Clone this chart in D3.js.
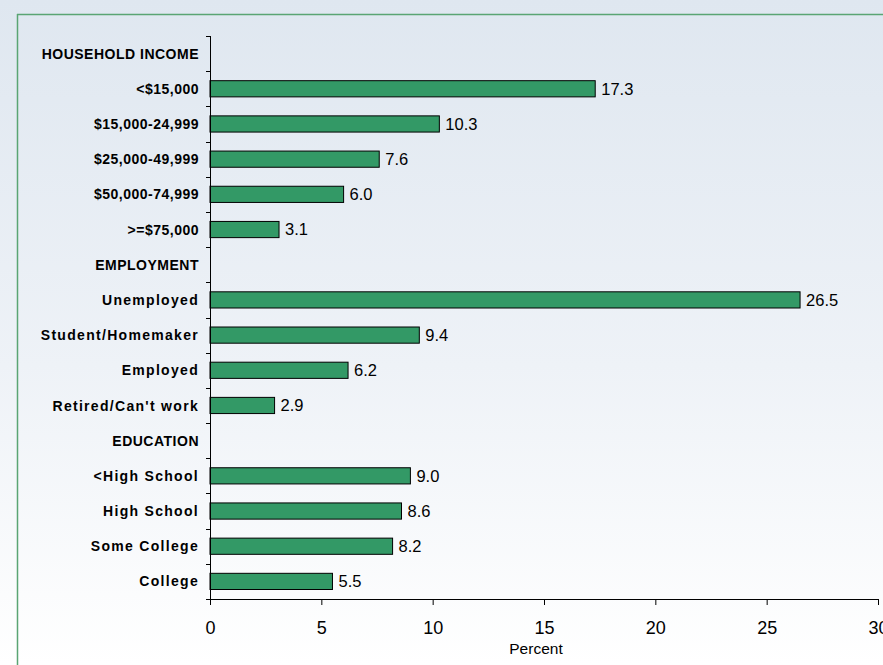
<!DOCTYPE html>
<meta charset="utf-8">
<style>
body { margin: 0; font-family: Arial, "Liberation Sans", Helvetica, sans-serif; }
svg { display: block; }
.ylab { font-size: 14px; font-weight: bold; fill: #000; }
.val { font-size: 16.5px; fill: #000; }
.xaxis text { font-size: 18px; font-family: Arial, "Liberation Sans", sans-serif; fill: #000; }
</style>
<body>
<script src="https://d3js.org/d3.v7.min.js"></script>
<script>
var categories = ["HOUSEHOLD INCOME", "<$15,000", "$15,000-24,999", "$25,000-49,999", "$50,000-74,999", ">=$75,000",
  "EMPLOYMENT", "Unemployed", "Student/Homemaker", "Employed", "Retired/Can't work",
  "EDUCATION", "<High School", "High School", "Some College", "College"];
var values = [null, 17.3, 10.3, 7.6, 6.0, 3.1,
  null, 26.5, 9.4, 6.2, 2.9,
  null, 9.0, 8.6, 8.2, 5.5];
var xTicks = [0, 5, 10, 15, 20, 25, 30];

var width = 883, height = 665;

var svg = d3.select("body").append("svg")
  .attr("width", width)
  .attr("height", height);

// background gradient
var grad = svg.append("defs").append("linearGradient")
  .attr("id", "bg").attr("x1", 0).attr("y1", 0).attr("x2", 0).attr("y2", 1);
grad.append("stop").attr("offset", "0%").attr("stop-color", "#dfe7f0");
grad.append("stop").attr("offset", "55%").attr("stop-color", "#eef2f7");
grad.append("stop").attr("offset", "100%").attr("stop-color", "#ffffff");
svg.append("rect").attr("width", width).attr("height", height).attr("fill", "url(#bg)");

// green frame (top and left edges visible)
svg.append("line").attr("x1", 17).attr("y1", 14.5).attr("x2", width).attr("y2", 14.5)
  .attr("stroke", "#5aa573").attr("stroke-width", 1.5);
svg.append("line").attr("x1", 17.5).attr("y1", 14).attr("x2", 17.5).attr("y2", height)
  .attr("stroke", "#5aa573").attr("stroke-width", 1.5);

var x = d3.scaleLinear().domain([0, 30]).range([210, 878]);
var y = d3.scaleBand().domain(categories).range([36, 599]).paddingInner(0).paddingOuter(0);
var barH = y.bandwidth() * 0.46;

var rows = categories.map(function(c, i) { return {cat: c, v: values[i]}; });
var withVal = rows.filter(function(d) { return d.v !== null; });

// bars
svg.selectAll("rect.bar").data(withVal).enter().append("rect")
  .attr("class", "bar")
  .attr("x", x(0))
  .attr("y", function(d) { return y(d.cat) + (y.bandwidth() - barH) / 2; })
  .attr("width", function(d) { return x(d.v) - x(0); })
  .attr("height", barH)
  .attr("fill", "#339966")
  .attr("stroke", "#000")
  .attr("stroke-width", 1);

svg.selectAll("text.val").data(withVal).enter().append("text")
  .attr("class", "val")
  .attr("x", function(d) { return x(d.v) + 6; })
  .attr("y", function(d) { return y(d.cat) + y.bandwidth() / 2; })
  .attr("dy", "0.36em")
  .text(function(d) { return d.v.toFixed(1); });

// y axis line and ticks at band boundaries
svg.append("line").attr("x1", x(0) + 0.5).attr("x2", x(0) + 0.5)
  .attr("y1", y.range()[0]).attr("y2", y.range()[1])
  .attr("stroke", "#000");
var bounds = categories.map(function(c) { return y(c); }).concat([y.range()[1]]);
svg.selectAll("line.ytick").data(bounds).enter().append("line")
  .attr("x1", x(0) - 4).attr("x2", x(0))
  .attr("y1", function(d) { return Math.round(d) + 0.5; })
  .attr("y2", function(d) { return Math.round(d) + 0.5; })
  .attr("stroke", "#000");

// category labels; mixed-case words are spaced out wider in the original
svg.selectAll("text.ylab").data(categories).enter().append("text")
  .attr("class", "ylab")
  .attr("x", 199)
  .attr("y", function(d) { return y(d) + y.bandwidth() / 2; })
  .attr("dy", "0.36em")
  .attr("text-anchor", "end")
  .attr("letter-spacing", function(d) { return /[a-z]/.test(d) ? 1.3 : 0.5; })
  .text(function(d) { return d; });

// x axis
var xAxis = svg.append("g").attr("class", "xaxis")
  .attr("transform", "translate(0," + 599 + ")")
  .call(d3.axisBottom(x).tickValues(xTicks).tickSize(6).tickPadding(16).tickSizeOuter(0));
xAxis.select(".domain").attr("stroke", "#000");
xAxis.selectAll(".tick line").attr("stroke", "#000");

svg.append("text")
  .attr("x", x(15) - 8)
  .attr("y", 654)
  .attr("text-anchor", "middle")
  .style("font-size", "15.5px")
  .text("Percent");
</script>
</body>
